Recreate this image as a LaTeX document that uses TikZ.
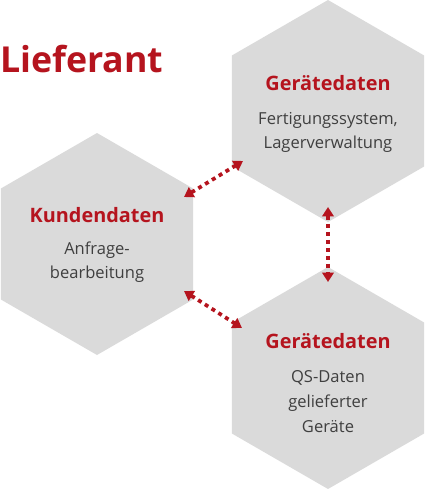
\documentclass[tikz,border=0pt]{standalone}
\usepackage{fontspec}
\setmainfont{Open Sans}
\usetikzlibrary{arrows.meta}
\definecolor{hexgray}{HTML}{DADADA}
\definecolor{lred}{HTML}{B5141E}
\definecolor{txtgray}{HTML}{3F3F3F}
\tikzset{
  hexfill/.style={fill=hexgray},
  headline/.style={text=lred, font=\bfseries\fontsize{14.9}{18}\selectfont, inner sep=0pt, anchor=base},
  bodytext/.style={text=txtgray, font=\fontsize{12.4}{18}\selectfont, align=center, inner sep=0pt, anchor=base},
  link/.style={draw=lred, line width=2.8pt, dash pattern=on 3pt off 3pt,
    {Triangle[length=7pt,width=8.5pt]}-{Triangle[length=7pt,width=8.5pt]}}
}
\begin{document}
\begin{tikzpicture}[x=0.75pt,y=-0.75pt]
    \useasboundingbox (0,0) rectangle (425,489);
    % hexagons
    \foreach \c in {(328,111),(97,244),(328,378)}
      \fill[hexfill] \c +(90:111) -- +(30:111) -- +(-30:111) -- +(-90:111) -- +(-150:111) -- +(150:111) -- cycle;
    % heading
    \node[text=lred, font=\bfseries\fontsize{26.8}{30}\selectfont, inner sep=0pt, anchor=base west] (lief) at (0,72) {Lieferant};
    % texts (base = last line)
    \node[headline] (gd1) at (328,90) {Gerätedaten};
    \node[bodytext] (gd1t) at (328,148) {Fertigungssystem,\\Lagerverwaltung};
    \node[headline] (kd) at (97,222) {Kundendaten};
    \node[bodytext] (kdt) at (97,278) {Anfrage-\\bearbeitung};
    \node[headline] (gd2) at (328,348) {Gerätedaten};
    \node[bodytext, font=\fontsize{12.4}{18.4}\selectfont] (gd2t) at (328,432) {QS-Daten\\gelieferter\\Geräte};
    % arrow ends
    \coordinate (kd-ne) at (184,197);
    \coordinate (gd1-sw) at (243,161);
    \coordinate (kd-se) at (184,291);
    \coordinate (gd2-nw) at (242,328);
    \coordinate (gd1-s) at (328,207);
    \coordinate (gd2-n) at (328,282);
    \draw[link] (kd-ne) -- (gd1-sw);
    \draw[link] (kd-se) -- (gd2-nw);
    \draw[link] (gd1-s) -- (gd2-n);
\end{tikzpicture}
\end{document}
